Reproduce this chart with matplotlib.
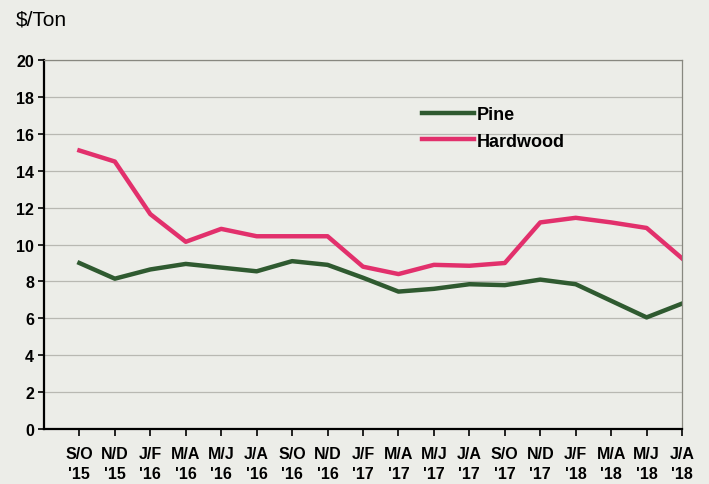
import matplotlib.pyplot as plt

# bimonthly periods
periodos = ["S/O\n'15", "N/D\n'15", "J/F\n'16", "M/A\n'16", "M/J\n'16", "J/A\n'16",
            "S/O\n'16", "N/D\n'16", "J/F\n'17", "M/A\n'17", "M/J\n'17", "J/A\n'17",
            "S/O\n'17", "N/D\n'17", "J/F\n'18", "M/A\n'18", "M/J\n'18", "J/A\n'18"]

pine = [9.0, 8.15, 8.65, 8.95, 8.75, 8.55, 9.1, 8.9, 8.2, 7.45, 7.6, 7.85,
        7.8, 8.1, 7.85, 6.95, 6.05, 6.8]
hardwood = [15.1, 14.5, 11.65, 10.15, 10.85, 10.45, 10.45, 10.45, 8.8, 8.4,
            8.9, 8.85, 9.0, 11.2, 11.45, 11.2, 10.9, 9.25]

y_ticks = list(range(0, 21, 2))

plt.rcParams['font.family'] = ['Liberation Sans', 'DejaVu Sans']

fig = plt.figure(figsize=(7.09, 4.85), dpi=100, facecolor='#ecede8')
ax = fig.add_axes([0.062, 0.1134, 0.9, 0.7606])
ax.set_facecolor('#ecede8')

x = list(range(len(periodos)))
ax.plot(x, pine, color='#2f5a30', linewidth=3.2, label='Pine', solid_joinstyle='round')
ax.plot(x, hardwood, color='#e2306c', linewidth=3.2, label='Hardwood', solid_joinstyle='round')

ax.set_xlim(-1, 17)
ax.set_ylim(0, 20)
ax.set_yticks(y_ticks)
ax.set_xticks(x)
ax.set_xticklabels(periodos, fontsize=11.5, linespacing=1.45)
ax.tick_params(axis='y', labelsize=11.5, direction='out', length=4, width=1.2, pad=3)
ax.tick_params(axis='x', direction='out', length=5, width=1.2, pad=7)
for lbl in ax.get_xticklabels() + ax.get_yticklabels():
    lbl.set_fontweight('bold')

ax.grid(axis='y', color='#b8b8b2', linewidth=0.9)
ax.set_axisbelow(True)
ax.spines['left'].set_linewidth(1.6)
ax.spines['bottom'].set_linewidth(1.6)
ax.spines['top'].set_color('#888880')
ax.spines['top'].set_linewidth(0.9)
ax.spines['right'].set_color('#888880')
ax.spines['right'].set_linewidth(0.9)

leg = ax.legend(loc='upper left', bbox_to_anchor=(0.567, 0.92), frameon=False,
                handlelength=2.9, handletextpad=0.15, labelspacing=0.55,
                prop={'weight': 'bold', 'size': 13})

fig.text(0.022, 0.959, '$/Ton', fontsize=15, ha='left', va='center')

fig.savefig('out.png', dpi=100, facecolor=fig.get_facecolor())
